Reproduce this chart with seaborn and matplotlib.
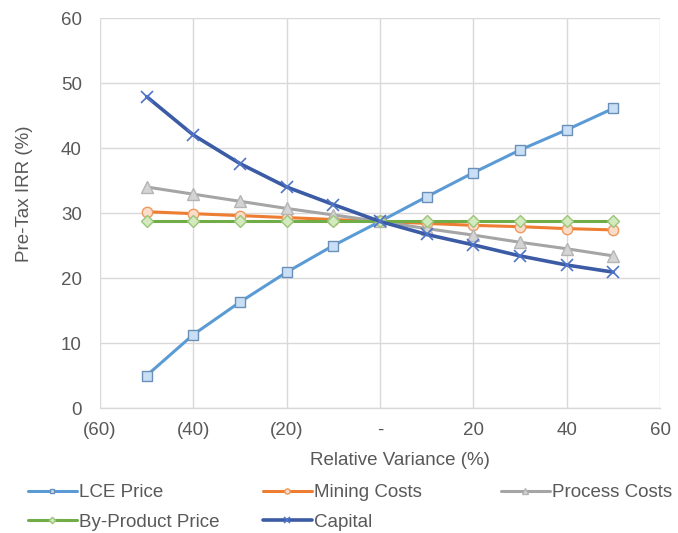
import matplotlib
matplotlib.use("Agg")
import matplotlib.pyplot as plt
import seaborn as sns
import pandas as pd

variance = [-50, -40, -30, -20, -10, 0, 10, 20, 30, 40, 50]
lce_price = [5.0, 11.3, 16.3, 20.9, 25.0, 28.7, 32.5, 36.2, 39.7, 42.8, 46.1]
mining_costs = [30.2, 29.9, 29.6, 29.3, 29.0, 28.7, 28.4, 28.1, 27.9, 27.6, 27.4]
process_costs = [34.0, 32.9, 31.8, 30.7, 29.7, 28.7, 27.6, 26.6, 25.5, 24.5, 23.4]
byproduct_price = [28.7, 28.7, 28.7, 28.7, 28.7, 28.7, 28.7, 28.7, 28.7, 28.7, 28.7]
capital = [47.9, 42.0, 37.6, 34.0, 31.3, 28.7, 26.7, 25.1, 23.4, 22.0, 20.9]

series_names = ["LCE Price", "Mining Costs", "Process Costs", "By-Product Price", "Capital"]
series_values = [lce_price, mining_costs, process_costs, byproduct_price, capital]

xtick_vals = [-60, -40, -20, 0, 20, 40, 60]
xtick_labels = ["(60)", "(40)", "(20)", "-", "20", "40", "60"]
ytick_vals = [0, 10, 20, 30, 40, 50, 60]

styles = {
    "LCE Price": dict(color="#5B9BD5", marker="s", mfc="#C9DFF5", mec="#6A8FB8", ms=7, mew=1.0, lw=2.2),
    "Mining Costs": dict(color="#ED7D31", marker="o", mfc="#FBDCC8", mec="#ED9A60", ms=7.5, mew=1.0, lw=2.2),
    "Process Costs": dict(color="#A5A5A5", marker="^", mfc="#D4D4D4", mec="#B5B5B5", ms=8, mew=1.0, lw=2.2),
    "By-Product Price": dict(color="#70AD47", marker="D", mfc="#D3EABF", mec="#9CC47A", ms=6.5, mew=1.0, lw=2.2),
    "Capital": dict(color="#3B5BA5", marker="x", mfc="#3B5BA5", mec="#4F74C8", ms=8, mew=1.2, lw=2.6),
}

df = pd.DataFrame({
    "variance": variance * len(series_names),
    "irr": [v for vals in series_values for v in vals],
    "series": [n for n in series_names for _ in variance],
})

sns.set_style("white")
plt.rcParams["font.family"] = ["Liberation Sans", "DejaVu Sans"]

FS = 13.5
GREY = "#595959"

fig = plt.figure(figsize=(6.78, 5.33), dpi=100)
ax = fig.add_axes([0.1475, 0.2345, 0.826, 0.7317])

for name in series_names:
    s = styles[name]
    sub = df[df["series"] == name]
    sns.lineplot(data=sub, x="variance", y="irr", ax=ax, color=s["color"], lw=s["lw"],
                 marker=s["marker"], markersize=s["ms"], markerfacecolor=s["mfc"],
                 markeredgecolor=s["mec"], markeredgewidth=s["mew"], label=name,
                 legend=False, zorder=3)

ax.set_xlim(-60, 60)
ax.set_ylim(0, 60)
ax.set_xticks(xtick_vals)
ax.set_xticklabels(xtick_labels)
ax.set_yticks(ytick_vals)
ax.grid(True, color="#D9D9D9", lw=1.0)
ax.set_axisbelow(True)
for side in ["top", "right", "left"]:
    ax.spines[side].set_visible(False)
ax.spines["bottom"].set_color("#D9D9D9")
ax.spines["bottom"].set_linewidth(1.0)
ax.tick_params(axis="both", length=0, labelsize=FS, colors=GREY)
ax.tick_params(axis="x", pad=10)
ax.tick_params(axis="y", pad=13)
ax.set_xlabel("Relative Variance (%)", fontsize=FS, color=GREY)
ax.set_ylabel("Pre-Tax IRR (%)", fontsize=FS, color=GREY)
ax.xaxis.set_label_coords(0.535, -0.113)
ax.yaxis.set_label_coords(-0.12, 0.55)

handles, labels = ax.get_legend_handles_labels()
hmap = dict(zip(labels, handles))
columns = [(["LCE Price", "By-Product Price"], 28),
           (["Mining Costs", "Capital"], 263),
           (["Process Costs"], 501)]
for names, xpx in columns:
    leg = fig.legend([hmap[n] for n in names], names, loc="upper left",
                     bbox_to_anchor=(xpx / 678, 1 - 484 / 533), ncol=1,
                     frameon=False, fontsize=FS, markerscale=0.5, handlelength=2.6,
                     handletextpad=0.1, labelspacing=0.68, borderpad=0, borderaxespad=0)
    for t in leg.get_texts():
        t.set_color(GREY)

fig.savefig("out.png", dpi=100)
